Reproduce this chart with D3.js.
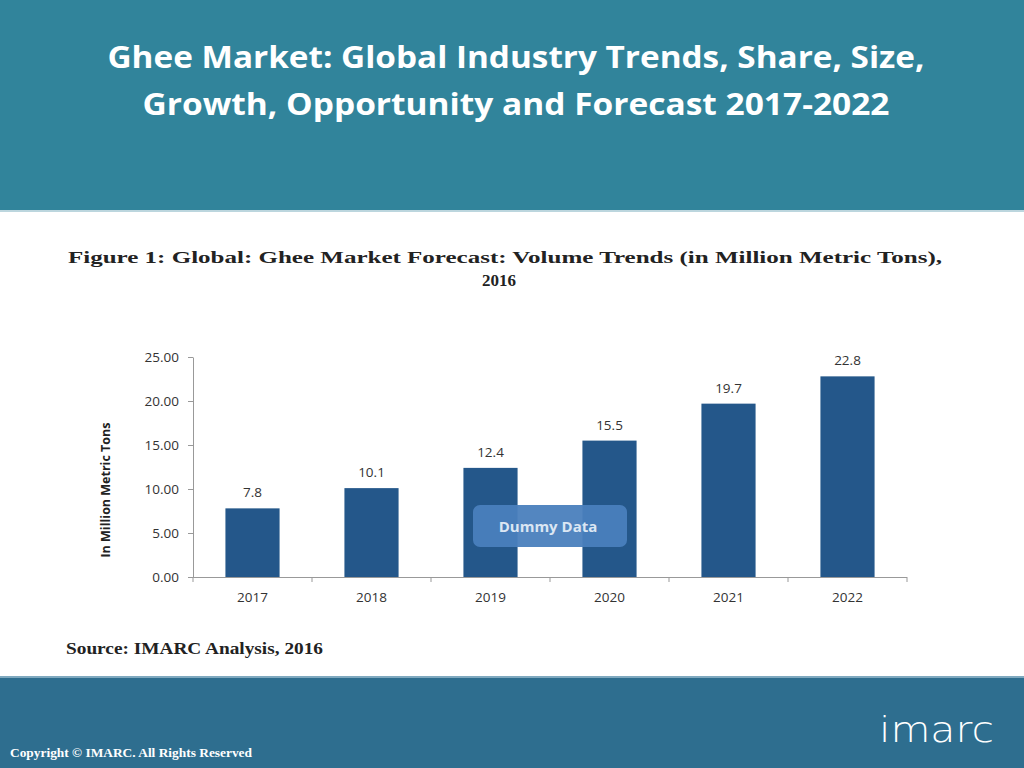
<!DOCTYPE html>
<html><head><meta charset="utf-8">
<script src="https://cdn.jsdelivr.net/npm/d3@7"></script>
<style>html,body{margin:0;padding:0;background:#fff;}svg{display:block;}</style>
</head><body>
<script>
const categories = ["2017","2018","2019","2020","2021","2022"];
const values = [7.8, 10.1, 12.4, 15.5, 19.7, 22.8];
const valueLabels = ["7.8","10.1","12.4","15.5","19.7","22.8"];
const yTicks = [0, 5, 10, 15, 20, 25];
const titleLines = ["Ghee Market: Global Industry Trends, Share, Size,", "Growth, Opportunity and Forecast 2017-2022"];
const titleWidths = [817, 747];
const captionLines = ["Figure 1: Global: Ghee Market Forecast: Volume Trends (in Million Metric Tons),", "2016"];

const W = 1024, H = 768;
const svg = d3.select("body").append("svg").attr("width", W).attr("height", H);

// header
svg.append("rect").attr("x",0).attr("y",0).attr("width",W).attr("height",210).attr("fill","#31849b");
svg.append("rect").attr("x",0).attr("y",210).attr("width",W).attr("height",2).attr("fill","#bcd6de");
svg.selectAll("text.title").data(titleLines).enter().append("text")
  .attr("x", 516).attr("y",(d,i)=>68+i*47).attr("text-anchor","middle")
  .attr("fill","#fff").attr("font-family","'Open Sans', sans-serif").attr("font-weight","bold")
  .attr("font-size",30).attr("textLength",(d,i)=>titleWidths[i]).attr("lengthAdjust","spacingAndGlyphs")
  .text(d=>d);

// footer
svg.append("rect").attr("x",0).attr("y",676).attr("width",W).attr("height",92).attr("fill","#2e6e8f");
svg.append("rect").attr("x",0).attr("y",676).attr("width",W).attr("height",2).attr("fill","#7fa9bf");
svg.append("text").attr("x",10).attr("y",757).attr("fill","#fff")
  .attr("font-family","'Liberation Serif', serif").attr("font-weight","bold").attr("font-size",12.5)
  .attr("textLength",242).attr("lengthAdjust","spacingAndGlyphs")
  .text("Copyright © IMARC. All Rights Reserved");
svg.append("text").attr("x",879).attr("y",742).attr("fill","#fff")
  .attr("font-family","'DejaVu Sans', sans-serif").attr("font-weight","200").attr("font-size",36)
  .attr("textLength",115).attr("lengthAdjust","spacingAndGlyphs").text("imarc");

// caption
svg.selectAll("text.cap").data(captionLines).enter().append("text")
  .attr("x",(d,i)=> i===0 ? 68 : 499).attr("y",(d,i)=>263+i*23)
  .attr("text-anchor",(d,i)=> i===0 ? "start" : "middle")
  .attr("fill","#222").attr("font-family","'Liberation Serif', serif").attr("font-weight","bold")
  .attr("font-size",17)
  .each(function(d,i){ if(i===0) d3.select(this).attr("textLength",874).attr("lengthAdjust","spacingAndGlyphs"); })
  .text(d=>d);

// chart
const m = {left:193, right:907, top:357, bottom:577};
const x = d3.scaleBand().domain(categories).range([m.left, m.right]).paddingInner(0.545).paddingOuter(0.2725);
const y = d3.scaleLinear().domain([0,25]).range([m.bottom, m.top]);

const g = svg.append("g");
const yAxis = g.append("g").attr("transform",`translate(${m.left},0)`)
  .call(d3.axisLeft(y).tickValues(yTicks).tickFormat(d3.format(".2f")).tickSize(5).tickSizeOuter(0));
yAxis.select(".domain").attr("stroke","#999");
yAxis.selectAll(".tick line").attr("stroke","#999");
yAxis.selectAll(".tick text").attr("fill","#333").attr("font-family","'Open Sans', sans-serif")
  .attr("font-size",13.5).attr("x",-14);

const xAxis = g.append("g").attr("transform",`translate(0,${m.bottom})`)
  .call(d3.axisBottom(x).tickSize(0));
xAxis.select(".domain").remove();
g.append("line").attr("x1",m.left).attr("x2",m.right).attr("y1",m.bottom+0.5).attr("y2",m.bottom+0.5).attr("stroke","#999");
g.selectAll("line.xt").data(d3.range(categories.length+1)).enter().append("line")
  .attr("x1",i=>m.left + i*(m.right-m.left)/categories.length).attr("x2",i=>m.left + i*(m.right-m.left)/categories.length)
  .attr("y1",m.bottom).attr("y2",m.bottom+5).attr("stroke","#999");
xAxis.selectAll(".tick text").attr("fill","#333").attr("font-family","'Open Sans', sans-serif")
  .attr("font-size",13.5).attr("dy","1.6em");

g.selectAll("rect.bar").data(values).enter().append("rect")
  .attr("x",(d,i)=>x(categories[i])).attr("width",x.bandwidth())
  .attr("y",d=>y(d)).attr("height",d=>y(0)-y(d)).attr("fill","#24578a");

g.selectAll("text.val").data(values).enter().append("text")
  .attr("x",(d,i)=>x(categories[i])+x.bandwidth()/2).attr("y",d=>y(d)-11)
  .attr("text-anchor","middle").attr("fill","#333").attr("font-family","'Open Sans', sans-serif")
  .attr("font-size",13.5).text((d,i)=>valueLabels[i]);

// y title
svg.append("text").attr("transform","translate(110,490) rotate(-90)").attr("text-anchor","middle")
  .attr("fill","#222").attr("font-family","'Open Sans', sans-serif").attr("font-weight","bold")
  .attr("font-size",12.5).text("In Million Metric Tons");

// dummy data box
svg.append("rect").attr("x",473).attr("y",505).attr("width",154).attr("height",42).attr("rx",7)
  .attr("fill","#4a7fbd").attr("fill-opacity",0.95);
svg.append("text").attr("x",548).attr("y",532).attr("text-anchor","middle").attr("fill","#dbe6f3")
  .attr("font-family","'Open Sans', sans-serif").attr("font-weight","bold").attr("font-size",15).text("Dummy Data");

// source
svg.append("text").attr("x",66).attr("y",654).attr("fill","#222")
  .attr("font-family","'Liberation Serif', serif").attr("font-weight","bold").attr("font-size",16.5)
  .attr("textLength",257).attr("lengthAdjust","spacingAndGlyphs")
  .text("Source: IMARC Analysis, 2016");
</script>
</body></html>
